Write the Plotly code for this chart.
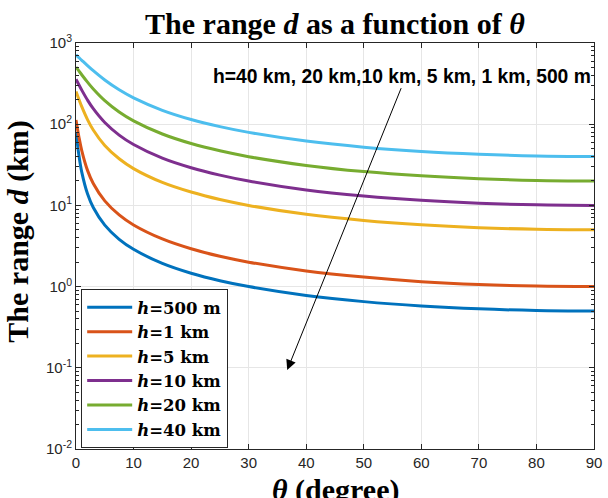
import plotly.graph_objects as go
import numpy as np

# elevation angle (degree)
theta = [0, 0.5, 1, 2, 3, 5, 7.5, 10, 15, 20, 25, 30, 40, 50, 60, 70, 80, 90]

# range d (km) for each altitude
d_500m = [79.8, 41.7, 25.7, 13.9, 9.42, 5.71, 3.82, 2.88, 1.93, 1.46, 1.18, 1.00, 0.778, 0.653, 0.577, 0.532, 0.508, 0.500]
d_1km = [112.9, 70.2, 47.3, 27.0, 18.6, 11.36, 7.63, 5.74, 3.86, 2.92, 2.36, 2.00, 1.56, 1.31, 1.15, 1.06, 1.015, 1.00]
d_5km = [252.5, 202.9, 164.7, 114.1, 84.8, 54.7, 37.5, 28.4, 19.2, 14.6, 11.8, 9.99, 7.77, 6.53, 5.77, 5.32, 5.08, 5.00]
d_10km = [357.1, 305.8, 262.8, 198.3, 155.1, 104.9, 73.4, 56.2, 38.2, 29.1, 23.6, 19.95, 15.5, 13.05, 11.54, 10.64, 10.16, 10.0]
d_20km = [505.2, 452.7, 406.1, 329.6, 271.9, 195.4, 141.4, 109.9, 75.7, 57.8, 47.0, 39.8, 31.1, 26.1, 23.1, 21.3, 20.3, 20.0]
d_40km = [715.0, 661.6, 612.4, 526.5, 455.5, 350.0, 265.1, 211.0, 148.4, 114.3, 93.3, 79.3, 62.0, 52.1, 46.1, 42.6, 40.6, 40.0]

series_names = ["500 m", "1 km", "5 km", "10 km", "20 km", "40 km"]
series_values = [d_500m, d_1km, d_5km, d_10km, d_20km, d_40km]
colors = ["#0072BD", "#D95319", "#EDB120", "#7E2F8E", "#77AC30", "#4DBEEE"]

x_ticks = [0, 10, 20, 30, 40, 50, 60, 70, 80, 90]
y_ticks = [1e-2, 1e-1, 1e0, 1e1, 1e2, 1e3]
y_ticktext = ["10<sup>-2</sup>", "10<sup>-1</sup>", "10<sup>0</sup>",
              "10<sup>1</sup>", "10<sup>2</sup>", "10<sup>3</sup>"]
y_minor_ticks = [k * 10.0 ** e for e in range(-2, 3) for k in range(2, 10)]

# arrow endpoints (data coordinates)
arrow_tail = (56.6, 290.0)
arrow_head = (36.7, 0.094)
label_pos = (56.6, 390.0)

fig = go.Figure()
for name, vals, c in zip(series_names, series_values, colors):
    fig.add_trace(go.Scatter(
        x=theta, y=vals, mode="lines", line=dict(color=c, width=3, shape="spline"),
        name="<b><i>h</i>=" + name + "</b>"))

axis_col = "#262626"
grid_col = "#e6e6e6"
tick_font = dict(family="Liberation Sans", size=15, color=axis_col)

fig.update_layout(
    template="none",
    width=608, height=498,
    margin=dict(l=76, r=14, t=43, b=49, autoexpand=False),
    paper_bgcolor="white", plot_bgcolor="white",
    showlegend=True,
    title=dict(text="<b>The range <i>d</i> as a function of <i>θ</i></b>",
               font=dict(family="Liberation Serif", size=30, color="black"),
               x=(76 + 594) / 2 / 608, xanchor="center", y=1 - 23 / 498, yanchor="middle",
               yref="container", xref="container"),
    legend=dict(x=0.01, y=0.0025, xanchor="left", yanchor="bottom",
                bordercolor=axis_col, borderwidth=1, bgcolor="white",
                font=dict(family="DejaVu Serif", size=16.5, color="black"),
                tracegroupgap=0, itemwidth=45),
    xaxis=dict(range=[0, 90], tickvals=x_ticks, ticks="inside", ticklen=5,
               tickcolor=axis_col, showline=True, linecolor=axis_col, linewidth=1,
               mirror="ticks", showgrid=True, gridcolor=grid_col, gridwidth=1,
               zeroline=False, automargin=False, tickfont=tick_font),
    yaxis=dict(type="log", range=[-2, 3], tickmode="array", tickvals=y_ticks,
               ticktext=y_ticktext,
               ticks="inside", ticklen=5, tickcolor=axis_col, showline=True,
               linecolor=axis_col, linewidth=1, mirror="ticks", showgrid=True,
               gridcolor=grid_col, gridwidth=1, zeroline=False, automargin=False,
               minor=dict(ticks="inside", ticklen=3, tickcolor=axis_col,
                          tickmode="array", tickvals=y_minor_ticks, showgrid=False),
               tickfont=tick_font),
)

fig.add_annotation(
    x=arrow_head[0], y=np.log10(arrow_head[1]), ax=arrow_tail[0], ay=np.log10(arrow_tail[1]),
    xref="x", yref="y", axref="x", ayref="y", text="", showarrow=True,
    arrowhead=2, arrowsize=2, arrowwidth=1, arrowcolor="black")

fig.add_annotation(
    x=label_pos[0], y=np.log10(label_pos[1]), xref="x", yref="y", showarrow=False,
    text="<b>h=40 km, 20 km,10 km, 5 km, 1 km, 500 m</b>",
    font=dict(family="Liberation Sans", size=19.3, color="black"), xanchor="center", yanchor="middle")

fig.add_annotation(
    x=0.5, y=-0.054, xref="paper", yref="paper", showarrow=False,
    text="<b><i>θ</i> (degree)</b>", xanchor="center", yanchor="top",
    font=dict(family="Liberation Serif", size=30, color="black"))

fig.add_annotation(
    x=-0.111, y=0.534, xref="paper", yref="paper", showarrow=False, textangle=-90,
    text="<b>The range <i>d</i> (km)</b>", xanchor="center", yanchor="middle",
    font=dict(family="Liberation Serif", size=30, color="black"))

fig.write_html("out.html", config={"displayModeBar": False},
               post_script="document.body.style.margin='0';document.body.style.overflow='hidden';")
